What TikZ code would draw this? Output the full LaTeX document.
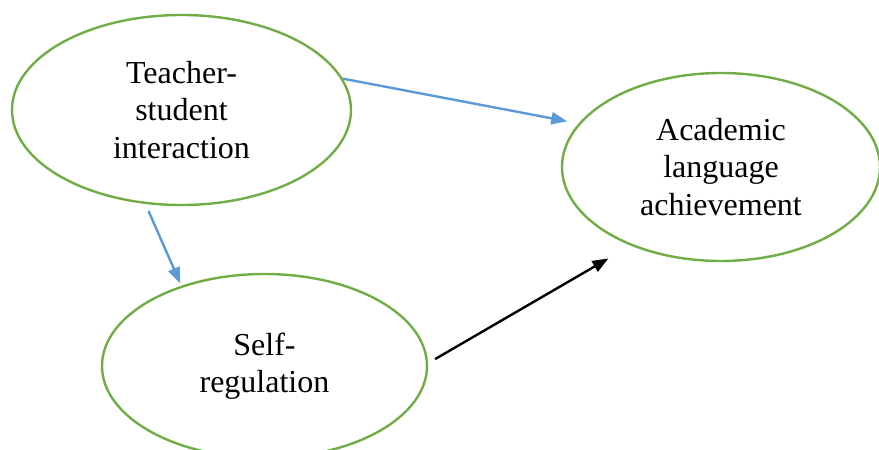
\documentclass[tikz,border=0pt]{standalone}
\usepackage{fontspec}
\setmainfont{Liberation Serif}
\usetikzlibrary{shapes.geometric,arrows.meta,positioning}
\definecolor{ellgreen}{RGB}{112,173,71}
\definecolor{arrblue}{RGB}{91,155,213}
\tikzset{
>={Triangle[length=16pt,width=12pt]},
construct/.style={ellipse, draw=ellgreen, line width=2.4pt, inner sep=0pt, text centered, align=center, font=\fontsize{32}{37.5}\selectfont},
link/.style={draw, line width=2.4pt, ->},
bluelink/.style={link, draw=arrblue},
}

\begin{document}
\begin{tikzpicture}
[x=1pt, y=1pt]

\useasboundingbox (0,0) rectangle (879,450);
\clip (0,0) rectangle (879,450);

\node[construct, minimum width=339pt, minimum height=190pt] (teacher) at (181.5,340) {Teacher-\\student\\interaction};
\node[construct, minimum width=318pt, minimum height=188pt] (academic) at (721,283) {Academic\\language\\achievement};
\node[construct, minimum width=325pt, minimum height=184pt] (selfreg) at (264.5,84) {Self-\\regulation};

\draw[bluelink, shorten >=11.5pt] (teacher.11.7) -- (academic.163.3);
\draw[bluelink, shorten <=7.5pt, shorten >=2.5pt] (teacher.249.4) -- (selfreg.136.2);
\draw[link, black, shorten <=8pt, shorten >=25.6pt] (selfreg.1) -- (academic.221.3);

\end{tikzpicture}
\end{document}
